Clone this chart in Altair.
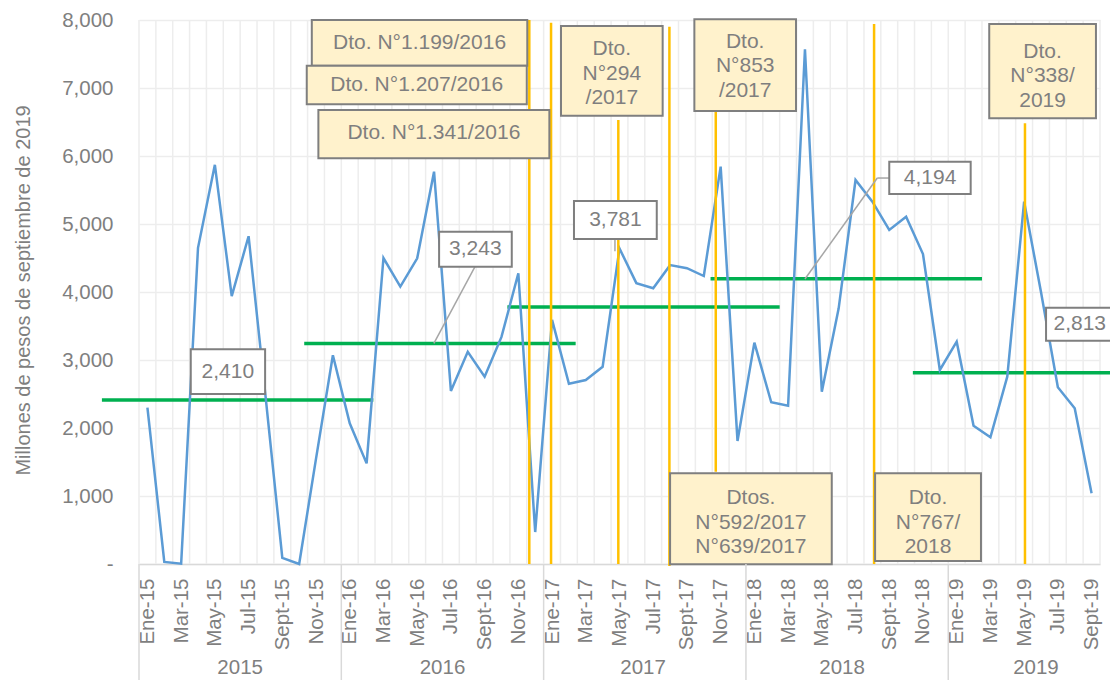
import altair as alt
import pandas as pd

# ---------------- data ----------------
MONTHS = ["Ene", "Feb", "Mar", "Abr", "May", "Jun", "Jul", "Ago", "Sept", "Oct", "Nov", "Dic"]
YEARS = ["2015", "2016", "2017", "2018", "2019"]
N_MONTHS = 57
MONTH_LABELS = [f"{MONTHS[k % 12]}-{YEARS[k // 12][2:]}" for k in range(N_MONTHS)]

VALUES = [
    2300, 30, 5, 4650, 5870, 3940, 4820, 2480, 90, 0, 1550, 3070,
    2070, 1480, 4500, 4080, 4495, 5770, 2545, 3120, 2755, 3340, 4275, 470,
    3590, 2650, 2705, 2900, 4640, 4130, 4055, 4395, 4350, 4235, 5843, 1810,
    3255, 2378, 2328, 7570, 2534, 3760, 5647, 5328, 4912, 5107, 4559, 2853,
    3270, 2034, 1863, 2755, 5328, 4000, 2598, 2290, 1040,
]

# yearly averages (green segments)
AVG_VALUES = [2410, 3243, 3781, 4194, 2813]
AVG_START = [-2.7, 9.3, 21.35, 33.4, 45.4]
AVG_END = [13.4, 25.4, 37.5, 49.5, 61.5]

# decree markers (orange vertical lines)
DECREE_X = [22.65, 23.94, 27.93, 30.96, 33.71, 43.1, 52.05]
DECREE_TOP = [8000, 7960, 6530, 7900, 6650, 7940, 6480]
DECREE_BOTTOM = [0, 0, 0, -30, 1357, 0, 0]

# decree callout boxes
BOX_TEXT = [
    "Dto. N°1.199/2016", "Dto. N°1.207/2016", "Dto. N°1.341/2016",
    "Dto.\nN°294\n/2017", "Dto.\nN°853\n/2017", "Dto.\nN°338/\n2019",
    "Dtos.\nN°592/2017\nN°639/2017", "Dto.\nN°767/\n2018",
]
BOX_X1 = [9.75, 9.45, 10.14, 24.53, 32.44, 49.93, 31.0, 43.16]
BOX_X2 = [22.53, 22.50, 23.84, 30.56, 38.47, 56.26, 40.59, 49.44]
BOX_TOP = [8000, 7328, 6676, 7912, 8010, 7941, 1334, 1334]
BOX_BOTTOM = [7328, 6760, 5966, 6593, 6662, 6554, -4, 44]
# y of the first text line in each box
BOX_TY = [7666, 7044, 6334, 7569, 7681, 7534, 966, 966]

# average value labels
VAL_TEXT = ["2,410", "3,243", "3,781", "4,194", "2,813"]
VAL_X1 = [2.57, 17.30, 25.30, 44.0, 53.3]
VAL_X2 = [6.98, 21.61, 30.21, 48.83, 58.28]
VAL_TOP = [3157, 4887, 5338, 5916, 3769]
VAL_BOTTOM = [2500, 4372, 4779, 5441, 3284]
VAL_TX = [4.77, 19.45, 27.76, 46.42, 55.3]
VAL_TY = [2828, 4629, 5059, 5678, 3527]

# leader lines (x1, y1) -> (x2, y2)
LEAD_X1 = [19.43, 27.73, 44.0, 43.29]
LEAD_Y1 = [4372, 4779, 5676, 5676]
LEAD_X2 = [16.99, 27.73, 43.29, 39.0]
LEAD_Y2 = [3246, 4600, 5676, 4191]

YEAR_X = [5.5, 17.5, 29.4, 41.2, 52.7]
YEAR_SEP_X = [-0.5, 11.5, 23.5, 35.5, 47.5]

# ---------------- styling ----------------
FONT = "Liberation Sans"
GRAY = "#7F7F7F"
XS = alt.Scale(domain=[-0.5, 56.5], nice=False, zero=False)
YS = alt.Scale(domain=[0, 8000], nice=False, zero=False)

label_array = "[" + ",".join(f"'{l}'" for l in MONTH_LABELS) + "]"

XAX = alt.Axis(
    values=list(range(0, N_MONTHS, 2)),
    labelExpr=f"{label_array}[datum.value]",
    labelAngle=270, labelPadding=14, labelFontSize=20.5, labelColor=GRAY,
    labelFont=FONT, labelOverlap=False, labelFlush=False,
    ticks=False, tickSize=0, grid=False,
    domainColor="#D9D9D9", domainWidth=1.5, title="",
)
YAX = alt.Axis(
    values=list(range(0, 8001, 1000)),
    labelExpr="datum.value == 0 ? '-' : format(datum.value, ',')",
    labelPadding=26, labelFontSize=20.5, labelColor=GRAY, labelFont=FONT,
    ticks=False, domain=False, grid=True, gridColor="#EDEDED", gridWidth=1.5,
    title="Millones de pesos de septiembre de 2019",
    titleFont=FONT, titleFontSize=20, titleFontWeight="normal", titleColor=GRAY,
    titleX=-116, titleY=270, titleAngle=270, titleAlign="center", titleBaseline="middle",
)


def X(f):
    return alt.X(f"{f}:Q", scale=XS, axis=XAX)


def Y(f):
    return alt.Y(f"{f}:Q", scale=YS, axis=YAX)


df_line = pd.DataFrame({"i": list(range(N_MONTHS)), "v": VALUES, "mes": MONTH_LABELS})
df_grid = pd.DataFrame({"x": [k - 0.5 for k in range(N_MONTHS + 1)], "y1": 0, "y2": 8000})
df_avg = pd.DataFrame({"x1": AVG_START, "x2": AVG_END, "v": AVG_VALUES})
df_dec = pd.DataFrame({"x": DECREE_X, "y1": DECREE_BOTTOM, "y2": DECREE_TOP})
df_box = pd.DataFrame({"x1": BOX_X1, "x2": BOX_X2, "y1": BOX_BOTTOM, "y2": BOX_TOP,
                       "t": BOX_TEXT, "tx": [(a + b) / 2 for a, b in zip(BOX_X1, BOX_X2)], "ty": BOX_TY})
df_val = pd.DataFrame({"x1": VAL_X1, "x2": VAL_X2, "y1": VAL_BOTTOM, "y2": VAL_TOP,
                       "t": VAL_TEXT, "tx": VAL_TX, "ty": VAL_TY})
df_lead = pd.DataFrame({"x1": LEAD_X1, "y1": LEAD_Y1, "x2": LEAD_X2, "y2": LEAD_Y2})
df_year = pd.DataFrame({"x": YEAR_X, "t": YEARS})
df_ysep = pd.DataFrame({"x": YEAR_SEP_X})

grid_v = alt.Chart(df_grid).mark_rule(color="#EDEDED", strokeWidth=1.5).encode(
    x=X("x"), y=Y("y1"), y2="y2:Q",
)

line = alt.Chart(df_line).mark_line(color="#5B9BD5", strokeWidth=2.5).encode(
    x=X("i"), y=Y("v"),
)

avg = alt.Chart(df_avg).mark_rule(color="#00B050", strokeWidth=3.5).encode(
    x=X("x1"), x2="x2:Q", y=Y("v"),
)

dec = alt.Chart(df_dec).mark_rule(color="#FFC000", strokeWidth=2.5).encode(
    x=X("x"), y=Y("y1"), y2="y2:Q",
)

lead = alt.Chart(df_lead).mark_rule(color="#A6A6A6", strokeWidth=1.5).encode(
    x=X("x1"), x2="x2:Q", y=Y("y1"), y2="y2:Q",
)

box_rect = alt.Chart(df_box).mark_rect(fill="#FFF2CC", stroke=GRAY, strokeWidth=2).encode(
    x=X("x1"), x2="x2:Q", y=Y("y1"), y2="y2:Q",
)
box_text = alt.Chart(df_box).mark_text(
    font=FONT, fontSize=21, color=GRAY, align="center", baseline="middle",
    lineBreak="\n", lineHeight=24.5,
).encode(
    x=X("tx"), y=Y("ty"), text="t:N",
)

val_rect = alt.Chart(df_val).mark_rect(fill="white", stroke=GRAY, strokeWidth=2).encode(
    x=X("x1"), x2="x2:Q", y=Y("y1"), y2="y2:Q",
)
val_text = alt.Chart(df_val).mark_text(
    font=FONT, fontSize=21, color=GRAY, align="center", baseline="middle",
).encode(
    x=X("tx"), y=Y("ty"), text="t:N",
)

ysep = alt.Chart(df_ysep).mark_rule(color="#D9D9D9", strokeWidth=1.5).encode(
    x=X("x"), y=alt.value(544), y2=alt.value(660),
)
ytext = alt.Chart(df_year).mark_text(
    font=FONT, fontSize=20.5, color=GRAY, align="center", baseline="alphabetic",
).encode(
    x=X("x"), y=alt.value(654), text="t:N",
)

chart = alt.layer(
    grid_v, avg, line, dec, lead, box_rect, box_text, val_rect, val_text, ysep, ytext
).properties(
    width=961, height=544,
    padding={"left": 131, "top": 12, "right": 10, "bottom": 116},
    autosize="none",
).configure(font=FONT).configure_view(stroke=None)

chart.save("out.html", embed_options={"renderer": "svg", "actions": False})
